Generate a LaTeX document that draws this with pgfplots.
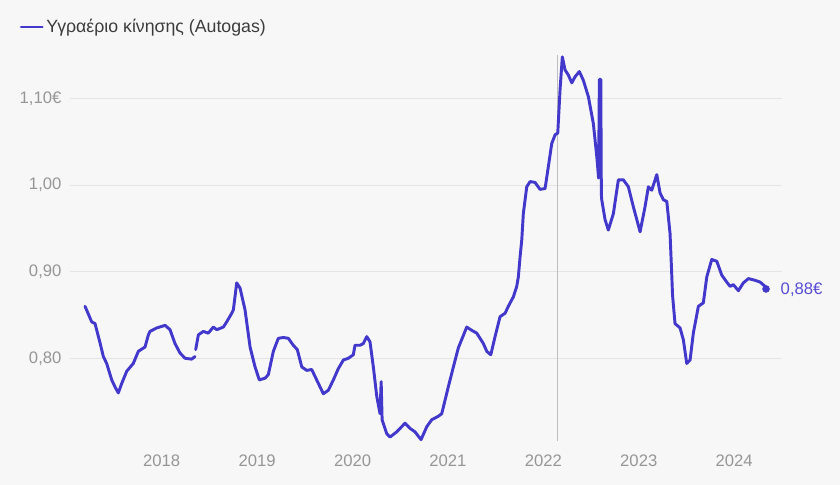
\documentclass[border=0pt]{standalone}
\usepackage{fontspec}
\setmainfont{Liberation Sans}
\usepackage{pgfplots}
\pgfplotsset{compat=1.18}
\definecolor{bg}{RGB}{247,247,247}
\definecolor{serie}{RGB}{66,56,204}
\definecolor{endlab}{RGB}{88,78,212}
\definecolor{ticktext}{RGB}{150,150,150}
\definecolor{gridc}{RGB}{228,228,228}
\definecolor{legtext}{RGB}{60,60,60}
\definecolor{vline}{RGB}{190,190,190}
\begin{document}
\begin{tikzpicture}
\fill[bg] (0pt,0pt) rectangle (630pt,363.75pt);
\begin{axis}[
  at={(52.6pt,30.1pt)}, anchor=south west,
  scale only axis, width=533.8pt, height=298.8pt,
  xmin=2017.04, xmax=2024.5, ymin=0.70, ymax=1.16,
  axis line style={draw=none},
  major tick length=0pt,
  ymajorgrids, grid style={gridc, line width=0.8pt},
  ytick={0.8,0.9,1.0,1.1},
  yticklabels={{0,80},{0,90},{1,00},{1,10€}},
  xtick={2018,2019,2020,2021,2022,2023,2024},
  xticklabels={2018,2019,2020,2021,2022,2023,2024},
  ticklabel style={font=\fontsize{12.5}{14}\selectfont, text=ticktext},
  yticklabel style={xshift=-3pt},
  xticklabel style={yshift=-4pt},
  unbounded coords=jump,
  clip=false,
  legend style={at={(-0.071,1.049)}, anchor=west, draw=none, fill=none,
    font=\fontsize{13.3}{15}\selectfont, text=legtext, inner sep=0pt},
  legend cell align=left,
  legend image code/.code={\draw[serie, line width=1.8pt] (0pt,0pt) -- (16pt,0pt);},
]
\addplot[vline, line width=0.7pt, forget plot] coordinates {(2022.148,0.705) (2022.148,1.15)};
\addplot[serie, line width=2.2pt, line join=round, line cap=round] coordinates {
(2017.196,0.860) (2017.266,0.842) (2017.301,0.840) (2017.353,0.818) (2017.388,0.802)
(2017.423,0.794) (2017.476,0.775) (2017.510,0.767) (2017.545,0.760) (2017.581,0.771)
(2017.633,0.785) (2017.702,0.794) (2017.755,0.808) (2017.825,0.813) (2017.860,0.827)
(2017.877,0.831) (2017.948,0.835) (2018.035,0.838) (2018.087,0.833) (2018.139,0.817)
(2018.192,0.806) (2018.244,0.800) (2018.314,0.799) (2018.349,0.802)
(2018.352,nan)
(2018.356,0.810) (2018.384,0.827) (2018.436,0.831) (2018.488,0.829) (2018.541,0.836)
(2018.577,0.833) (2018.646,0.836) (2018.681,0.842) (2018.734,0.852) (2018.751,0.856)
(2018.786,0.887) (2018.821,0.881) (2018.873,0.856) (2018.926,0.813) (2018.978,0.790)
(2019.023,0.775) (2019.083,0.777) (2019.117,0.781) (2019.170,0.808) (2019.222,0.823)
(2019.275,0.824) (2019.327,0.823) (2019.379,0.815) (2019.421,0.810) (2019.468,0.790)
(2019.520,0.786) (2019.572,0.787) (2019.607,0.779) (2019.659,0.767) (2019.694,0.759)
(2019.746,0.763) (2019.799,0.775) (2019.851,0.788) (2019.904,0.798) (2019.956,0.800)
(2020.008,0.804) (2020.026,0.815) (2020.079,0.815) (2020.113,0.817) (2020.149,0.825)
(2020.183,0.819) (2020.218,0.790) (2020.254,0.756) (2020.288,0.736) (2020.300,0.773)
(2020.310,0.729) (2020.358,0.713) (2020.393,0.709) (2020.463,0.715) (2020.498,0.719)
(2020.550,0.725) (2020.603,0.719) (2020.655,0.715) (2020.718,0.706) (2020.778,0.721)
(2020.830,0.729) (2020.899,0.733) (2020.935,0.736) (2021.004,0.767) (2021.057,0.790)
(2021.109,0.812) (2021.197,0.836) (2021.253,0.832) (2021.302,0.829) (2021.371,0.817)
(2021.407,0.808) (2021.449,0.804) (2021.494,0.825) (2021.546,0.848) (2021.599,0.852)
(2021.633,0.860) (2021.686,0.871) (2021.721,0.883) (2021.738,0.894) (2021.756,0.917)
(2021.774,0.937) (2021.790,0.967) (2021.826,0.998) (2021.861,1.004) (2021.913,1.003)
(2021.965,0.995) (2022.018,0.996) (2022.052,1.021) (2022.088,1.048) (2022.123,1.058)
(2022.151,1.060) (2022.175,1.110) (2022.199,1.148) (2022.227,1.133) (2022.262,1.127)
(2022.298,1.118) (2022.332,1.125) (2022.377,1.131) (2022.419,1.121) (2022.472,1.102)
(2022.524,1.071) (2022.560,1.033) (2022.579,1.008) (2022.587,1.122) (2022.602,1.122)
(2022.608,0.989) (2022.612,0.983) (2022.647,0.960) (2022.681,0.948) (2022.734,0.967)
(2022.786,1.006) (2022.839,1.006) (2022.891,0.998) (2022.943,0.975) (2023.014,0.946)
(2023.066,0.975) (2023.101,0.998) (2023.136,0.994) (2023.189,1.012) (2023.223,0.991)
(2023.258,0.983) (2023.294,0.981) (2023.328,0.944) (2023.346,0.896) (2023.354,0.873)
(2023.380,0.840) (2023.433,0.835) (2023.468,0.821) (2023.503,0.794) (2023.538,0.798)
(2023.572,0.829) (2023.625,0.860) (2023.677,0.864) (2023.713,0.894) (2023.765,0.914)
(2023.818,0.912) (2023.870,0.896) (2023.922,0.888) (2023.957,0.883) (2023.992,0.885)
(2024.044,0.878) (2024.096,0.887) (2024.149,0.892) (2024.219,0.890) (2024.271,0.888)
(2024.324,0.883) (2024.334,0.880)
};
\addlegendentry{Υγραέριο κίνησης (Autogas)}
\addplot[serie, only marks, mark=*, mark size=2.6pt, forget plot] coordinates {(2024.334,0.880)};
\node[anchor=west, text=endlab, font=\fontsize{12.5}{14}\selectfont, xshift=7.5pt] at (axis cs:2024.334,0.879) {0,88€};
\end{axis}
\pgfresetboundingbox
\useasboundingbox (0pt,0pt) rectangle (630pt,363.75pt);
\end{tikzpicture}
\end{document}
